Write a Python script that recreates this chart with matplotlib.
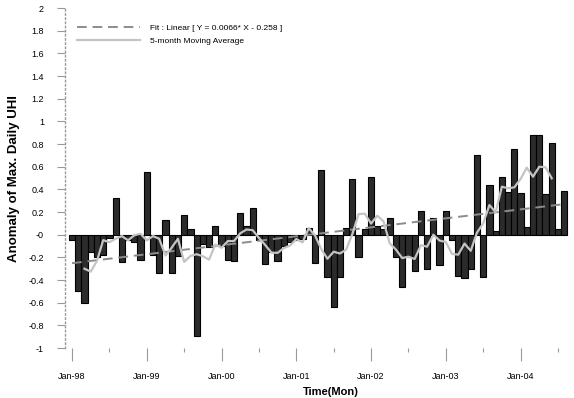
'''
Monthly anomaly of the maximum daily urban heat island (UHI) intensity,
Jan-98 to Aug-04, with a linear fit and a 5-month moving average.
'''

import matplotlib
matplotlib.use('Agg')
import matplotlib.pyplot as plt
from matplotlib.ticker import FixedLocator, FuncFormatter
import numpy as np
import pandas as pd

# monthly anomalies, one value per month starting Jan-98
anomaly = [
    -0.05, -0.50, -0.60, -0.15, -0.20, -0.18, -0.03, 0.32, -0.24, -0.05,
    -0.06, -0.22, 0.55, -0.18, -0.34, 0.13, -0.34, -0.19, 0.17, 0.05,
    -0.89, -0.08, -0.11, 0.08, -0.10, -0.22, -0.23, 0.19, 0.08, 0.24,
    -0.05, -0.26, -0.15, -0.23, -0.10, -0.06, -0.05, -0.04, 0.06, -0.25,
    0.57, -0.37, -0.64, -0.37, 0.06, 0.49, -0.20, 0.05, 0.51, 0.08,
    0.05, 0.15, -0.20, -0.46, -0.20, -0.32, 0.21, -0.30, 0.15, -0.27,
    0.21, -0.05, -0.36, -0.38, -0.30, 0.70, -0.37, 0.44, 0.03, 0.51,
    0.38, 0.76, 0.37, 0.07, 0.88, 0.88, 0.36, 0.81, 0.05, 0.39,
]
year_labels = ['Jan-98', 'Jan-99', 'Jan-00', 'Jan-01', 'Jan-02', 'Jan-03',
               'Jan-04']

# linear fit as printed in the legend
fit_slope = 0.0066
fit_intercept = -0.258
ma_window = 5

FONT = 'Liberation Sans'


def plot_uhi_anomaly(values, out_file='out.png'):
    '''
    Bar chart of the monthly anomaly with the trend line and the centred
    moving average on top.
    '''
    series = pd.Series(values)
    months = np.arange(len(series))
    moving_avg = series.rolling(ma_window, center=True).mean()
    fit = fit_slope * (months + 1) + fit_intercept

    fig = plt.figure(figsize=(5.74, 3.98), dpi=100)
    ax = fig.add_axes([0.113, 0.1256, 0.884, 0.854])

    ax.bar(months, series, width=1.0, color='#2b2b2b', edgecolor='black',
           linewidth=0.8, zorder=2)
    ax.plot(months, fit, color='#8c8c8c', linewidth=1.4,
            linestyle=(0, (5, 3)), zorder=3,
            label='Fit : Linear [ Y = 0.0066* X - 0.258 ]')
    ax.plot(months, moving_avg, color='#c4c4c4', linewidth=1.6, zorder=4,
            label='5-month Moving Average')

    ax.set_xlim(-1.15, 80.3)
    ax.set_ylim(-1, 2)

    ax.xaxis.set_major_locator(FixedLocator(np.arange(0, 80, 12)))
    ax.xaxis.set_minor_locator(FixedLocator(np.arange(6, 80, 12)))
    ax.set_xticklabels(year_labels)
    ax.set_yticks(np.round(np.arange(-1, 2.01, 0.2), 1))
    ax.yaxis.set_major_formatter(FuncFormatter(lambda v, pos: '%g' % v))

    for side in ['top', 'right', 'bottom']:
        ax.spines[side].set_visible(False)
    ax.spines['left'].set_color('#9a9a9a')
    ax.spines['left'].set_linestyle((0, (1, 2)))
    ax.spines['left'].set_linewidth(1.0)

    ax.tick_params(axis='x', which='major', length=9, width=0.8,
                   color='#9a9a9a', pad=8, labelsize=6.5)
    ax.tick_params(axis='x', which='minor', length=3, width=0.8,
                   color='#9a9a9a')
    ax.tick_params(axis='y', length=6, width=0.8, color='#9a9a9a', pad=9,
                   labelsize=6.5)
    for label in ax.get_xticklabels() + ax.get_yticklabels():
        label.set_family(FONT)

    ax.set_ylabel('Anomaly of Max. Daily UHI', family=FONT, fontsize=9.5,
                  fontweight='bold')
    ax.set_xlabel('Time(Mon)', family=FONT, fontsize=8, fontweight='bold')
    ax.xaxis.set_label_coords(0.525, -0.115)
    ax.yaxis.set_label_coords(-0.088, 0.5)

    ax.legend(loc='upper left', bbox_to_anchor=(0.01, 0.975), frameon=False,
              prop={'family': FONT, 'size': 6}, handlelength=7.5,
              handletextpad=1.2, labelspacing=0.6)

    fig.savefig(out_file, dpi=100)
    plt.close(fig)


if __name__ == '__main__':
    plot_uhi_anomaly(anomaly)
